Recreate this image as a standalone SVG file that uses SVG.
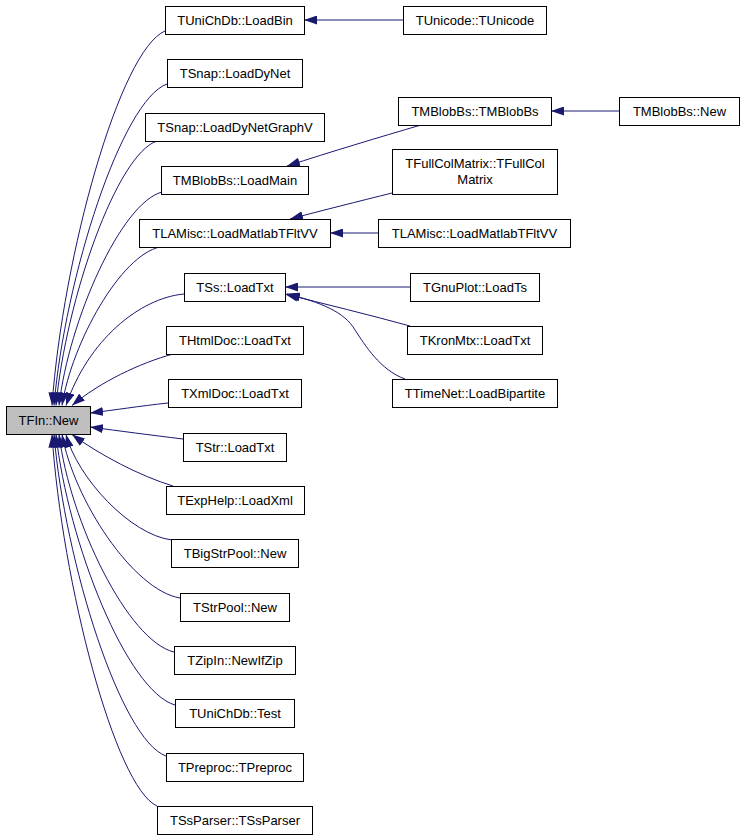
<svg xmlns="http://www.w3.org/2000/svg" width="744" height="840" viewBox="0 0 744 840">
<style>
.n rect{fill:#fff;stroke:#000;stroke-width:1}
.n.hl rect{fill:#bfbfbf}
.n text{font-family:"Liberation Sans",Arial,sans-serif;font-size:13px;fill:#000;text-anchor:middle}
#edges path{fill:none;stroke:#191970;stroke-width:1;marker-end:url(#a)}
</style>
<defs>
<marker id="a" markerWidth="13" markerHeight="9" refX="13" refY="4.5" orient="auto" markerUnits="userSpaceOnUse">
<path d="M0,0 L13,4.5 L0,9 z" fill="#191970"/>
</marker>
</defs>
<rect width="744" height="840" fill="#fff"/>
<g id="edges">
<path d="M165,31 C120,50 63,255 52,405.5"/>
<path d="M167,84 C122,100 65,277 54,405.5"/>
<path d="M157,141 C117,154 66,299 56,405.5"/>
<path d="M162,192 C121,203 69,320 59,405.5"/>
<path d="M160,247 C121,255 72,342 62,405.5"/>
<path d="M184,294 C140,298 88,340 66,405.5"/>
<path d="M173,354 C140,363 100,382 72,405.5"/>
<path d="M168,403 C140,406 115,410 90,413"/>
<path d="M183,439 C150,435 120,431 90,427"/>
<path d="M173,486 C140,476 100,455 72,434.5"/>
<path d="M172,540 C130,535 77,477 66,434.5"/>
<path d="M180,598 C133,590 74,500 62,434.5"/>
<path d="M174,652 C128,641 70,522 59,434.5"/>
<path d="M175,705 C127,691 68,543 56,434.5"/>
<path d="M166,756 C121,740 65,563 54,434.5"/>
<path d="M157,806 C115,787 62,583 52,434.5"/>
<path d="M403,20 L304,20"/>
<path d="M619,111 L551,111"/>
<path d="M421,125 C380,137 330,152 287,166"/>
<path d="M392,193 C360,201 320,211 290,219"/>
<path d="M378,233 L330,233"/>
<path d="M410,287 L285,287"/>
<path d="M410,326 C370,315 325,304 285,294"/>
<path d="M405,379 C380,370 365,345 355,330 C345,312 320,302 287,294"/>
</g>
<g id="n1" class="n"><rect x="165.5" y="6.5" width="139" height="28"/><text x="235" y="25">TUniChDb::LoadBin</text></g>
<g id="n2" class="n"><rect x="167.5" y="59.5" width="135" height="28"/><text x="235" y="78">TSnap::LoadDyNet</text></g>
<g id="n3" class="n"><rect x="145.5" y="113.5" width="179" height="28"/><text x="235" y="132">TSnap::LoadDyNetGraphV</text></g>
<g id="n4" class="n"><rect x="161.5" y="166.5" width="147" height="28"/><text x="235" y="185">TMBlobBs::LoadMain</text></g>
<g id="n5" class="n"><rect x="139.5" y="219.5" width="191" height="28"/><text x="235" y="238">TLAMisc::LoadMatlabTFltVV</text></g>
<g id="n6" class="n"><rect x="184.5" y="273.5" width="101" height="28"/><text x="235" y="292">TSs::LoadTxt</text></g>
<g id="n7" class="n"><rect x="166.5" y="326.5" width="137" height="28"/><text x="235" y="345">THtmlDoc::LoadTxt</text></g>
<g id="n8" class="n"><rect x="168.5" y="379.5" width="133" height="28"/><text x="235" y="398">TXmlDoc::LoadTxt</text></g>
<g id="n9" class="n hl"><rect x="6.5" y="406.5" width="84" height="28"/><text x="48.5" y="425">TFIn::New</text></g>
<g id="n10" class="n"><rect x="183.5" y="433.5" width="103" height="28"/><text x="235" y="452">TStr::LoadTxt</text></g>
<g id="n11" class="n"><rect x="166.5" y="486.5" width="138" height="28"/><text x="235" y="505">TExpHelp::LoadXml</text></g>
<g id="n12" class="n"><rect x="171.5" y="539.5" width="127" height="28"/><text x="235" y="558">TBigStrPool::New</text></g>
<g id="n13" class="n"><rect x="180.5" y="593.5" width="109" height="28"/><text x="235" y="612">TStrPool::New</text></g>
<g id="n14" class="n"><rect x="174.5" y="646.5" width="121" height="28"/><text x="235" y="665">TZipIn::NewIfZip</text></g>
<g id="n15" class="n"><rect x="175.5" y="699.5" width="119" height="28"/><text x="235" y="718">TUniChDb::Test</text></g>
<g id="n16" class="n"><rect x="166.5" y="753.5" width="137" height="28"/><text x="235" y="772">TPreproc::TPreproc</text></g>
<g id="n17" class="n"><rect x="157.5" y="806.5" width="155" height="28"/><text x="235" y="825">TSsParser::TSsParser</text></g>
<g id="n18" class="n"><rect x="403.5" y="6.5" width="143" height="28"/><text x="475" y="25">TUnicode::TUnicode</text></g>
<g id="n19" class="n"><rect x="398.5" y="97.5" width="153" height="28"/><text x="475" y="116">TMBlobBs::TMBlobBs</text></g>
<g id="n20" class="n"><rect x="619.5" y="97.5" width="120" height="28"/><text x="679.5" y="116">TMBlobBs::New</text></g>
<g id="n21" class="n"><rect x="392.5" y="149.5" width="165" height="45"/><text x="475" y="168">TFullColMatrix::TFullCol</text><text x="475" y="184">Matrix</text></g>
<g id="n22" class="n"><rect x="378.5" y="219.5" width="192" height="28"/><text x="474.5" y="238">TLAMisc::LoadMatlabTFltVV</text></g>
<g id="n23" class="n"><rect x="410.5" y="273.5" width="129" height="28"/><text x="475" y="292">TGnuPlot::LoadTs</text></g>
<g id="n24" class="n"><rect x="407.5" y="326.5" width="135" height="28"/><text x="475" y="345">TKronMtx::LoadTxt</text></g>
<g id="n25" class="n"><rect x="392.5" y="379.5" width="165" height="28"/><text x="475" y="398">TTimeNet::LoadBipartite</text></g>
</svg>
